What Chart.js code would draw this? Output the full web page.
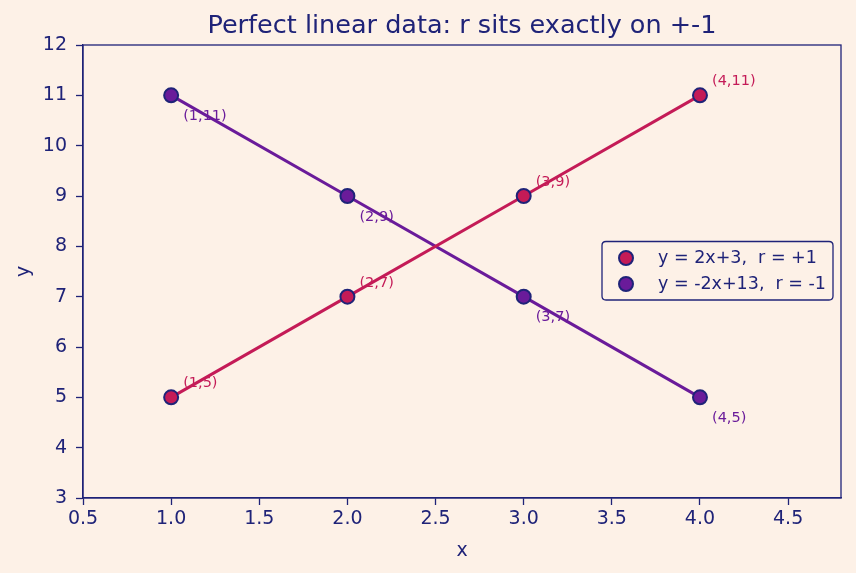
<!DOCTYPE html>
<html><head><meta charset="utf-8">
<script src="https://cdn.jsdelivr.net/npm/chart.js@4/dist/chart.umd.min.js"></script>
<style>html,body{margin:0;padding:0;background:#fdf1e7;}#wrap{width:856px;height:573px;}</style>
</head><body><div id="wrap"><canvas id="c" width="856" height="573"></canvas></div>
<script>
const xValues = [1, 2, 3, 4];
const yPositive = [5, 7, 9, 11];
const yNegative = [11, 9, 7, 5];
const seriesNames = ['y = 2x+3,  r = +1', 'y = -2x+13,  r = -1'];
const xTickValues = [0.5, 1, 1.5, 2, 2.5, 3, 3.5, 4, 4.5];
const titleText = 'Perfect linear data: r sits exactly on +-1';
const xTitle = 'x';
const yTitle = 'y';

const NAVY = '#1f2378';
const RED = '#c41b57';
const PURPLE = '#6a1b9a';
const BG = '#fdf1e7';
const FONT = "'DejaVu Sans', sans-serif";

const toPts = ys => xValues.map((x, i) => ({x: x, y: ys[i]}));

const bgPlugin = {
  id: 'bg',
  beforeDraw(chart) {
    const ctx = chart.ctx;
    ctx.save(); ctx.fillStyle = BG; ctx.fillRect(0, 0, chart.width, chart.height); ctx.restore();
  },
  beforeDatasetsDraw(chart) {
    const ctx = chart.ctx;
    ctx.save();
    ctx.font = "14.5px " + FONT;
    ctx.textBaseline = 'alphabetic';
    ctx.textAlign = 'left';
    chart.data.datasets.forEach((ds, di) => {
      const meta = chart.getDatasetMeta(di);
      ctx.fillStyle = ds.labelColor;
      meta.data.forEach((pt, i) => {
        const d = ds.data[i];
        const t = '(' + d.x + ',' + d.y + ')';
        if (di === 0) ctx.fillText(t, pt.x + 12, pt.y - 10);
        else ctx.fillText(t, pt.x + 12, pt.y + 24.5);
      });
    });
    ctx.restore();
  },
  afterDraw(chart) {
    const ctx = chart.ctx, a = chart.chartArea;
    ctx.save();
    ctx.strokeStyle = NAVY; ctx.lineWidth = 1.3;
    ctx.strokeRect(a.left, a.top, a.right - a.left, a.bottom - a.top);
    // title and axis titles
    ctx.fillStyle = NAVY; ctx.textAlign = 'center'; ctx.textBaseline = 'alphabetic';
    ctx.font = "25.5px " + FONT;
    ctx.fillText(titleText, (a.left + a.right) / 2, 33);
    ctx.font = "19px " + FONT;
    ctx.fillText(xTitle, (a.left + a.right) / 2, 556);
    ctx.save();
    ctx.translate(29, (a.top + a.bottom) / 2);
    ctx.rotate(-Math.PI / 2);
    ctx.fillText(yTitle, 0, 0);
    ctx.restore();
    // legend
    const lx = 602, ly = 241.5, lw = 231, lh = 58.5, r = 4;
    ctx.beginPath();
    ctx.moveTo(lx + r, ly); ctx.lineTo(lx + lw - r, ly); ctx.quadraticCurveTo(lx + lw, ly, lx + lw, ly + r);
    ctx.lineTo(lx + lw, ly + lh - r); ctx.quadraticCurveTo(lx + lw, ly + lh, lx + lw - r, ly + lh);
    ctx.lineTo(lx + r, ly + lh); ctx.quadraticCurveTo(lx, ly + lh, lx, ly + lh - r);
    ctx.lineTo(lx, ly + r); ctx.quadraticCurveTo(lx, ly, lx + r, ly); ctx.closePath();
    ctx.fillStyle = BG; ctx.fill();
    ctx.strokeStyle = NAVY; ctx.lineWidth = 1.3; ctx.stroke();
    chart.data.datasets.forEach((ds, di) => {
      const cy = 258 + di * 26;
      ctx.beginPath(); ctx.arc(626, cy, 7, 0, Math.PI * 2);
      ctx.fillStyle = ds.backgroundColor; ctx.fill();
      ctx.lineWidth = 2; ctx.strokeStyle = NAVY; ctx.stroke();
      ctx.fillStyle = NAVY; ctx.font = "17.5px " + FONT; ctx.textBaseline = 'middle'; ctx.textAlign = 'left';
      ctx.fillText(ds.label, 658, cy);
    });
    ctx.restore();
  }
};

new Chart(document.getElementById('c'), {
  type: 'scatter',
  data: {
    datasets: [
      {label: seriesNames[0], data: toPts(yPositive), showLine: true, borderColor: RED, backgroundColor: RED,
       labelColor: RED, borderWidth: 3, pointRadius: 7, pointHoverRadius: 7, pointBorderColor: NAVY,
       pointBorderWidth: 2, pointBackgroundColor: RED},
      {label: seriesNames[1], data: toPts(yNegative), showLine: true, borderColor: PURPLE, backgroundColor: PURPLE,
       labelColor: PURPLE, borderWidth: 3, pointRadius: 7, pointHoverRadius: 7, pointBorderColor: NAVY,
       pointBorderWidth: 2, pointBackgroundColor: PURPLE}
    ]
  },
  options: {
    responsive: false, animation: false, devicePixelRatio: 1,
    layout: {padding: {left: 0, right: 15, top: 45, bottom: 0}},
    plugins: {legend: {display: false}, tooltip: {enabled: false}, title: {display: false}},
    scales: {
      x: {
        type: 'linear', min: 0.5, max: 4.8,
        afterBuildTicks(s) { s.ticks = xTickValues.map(v => ({value: v})); },
        afterFit(s) { s.height = 75; },
        ticks: {color: NAVY, font: {family: FONT, size: 19}, padding: 3, maxRotation: 0,
                callback: v => Number(v).toFixed(1)},
        grid: {drawOnChartArea: false, color: NAVY, tickLength: 7, tickWidth: 1.3},
        border: {color: NAVY, width: 1.3}
      },
      y: {
        type: 'linear', min: 3, max: 12,
        ticks: {stepSize: 1, color: NAVY, font: {family: FONT, size: 19}, padding: 9},
        afterFit(s) { s.width = 83; },
        grid: {drawOnChartArea: false, color: NAVY, tickLength: 7, tickWidth: 1.3},
        border: {color: NAVY, width: 1.3}
      }
    }
  },
  plugins: [bgPlugin]
});
</script></body></html>
